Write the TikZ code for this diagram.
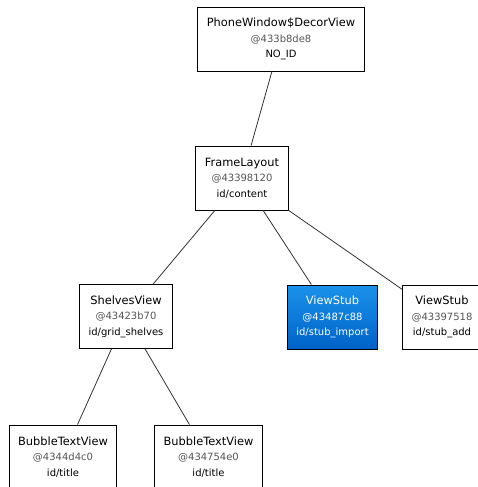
\documentclass[tikz,border=0pt]{standalone}
\usepackage{fontspec}
\setmainfont{DejaVu Sans}

\definecolor{addrgray}{RGB}{85,85,85}
\definecolor{stubtop}{RGB}{26,146,234}
\definecolor{stubbot}{RGB}{0,98,200}
\definecolor{edgegray}{RGB}{50,50,50}

\newcommand{\vinfo}[3]{{\fontsize{11.4}{15.5}\selectfont #1}\\{\color{addrgray}#2}\\#3}

\begin{document}
\begin{tikzpicture}[x=1pt, y=-1pt,
  view/.style={draw, line width=0.9pt, fill=white, align=center, minimum height=64pt,
    inner xsep=9pt, font=\fontsize{10}{15.5}\selectfont},
  picked/.style={view, top color=stubtop, bottom color=stubbot, text=white},
  link/.style={draw=edgegray, line width=0.8pt}]

\useasboundingbox (0,0) rectangle (477,487);

\node[view] (decor) at (281,39) {\vinfo{PhoneWindow\$DecorView}{@433b8de8}{NO\_ID}};
\node[view] (frame) at (242,178) {\vinfo{FrameLayout}{@43398120}{id/content}};

\node[view] (shelves) at (126,316.5) {\vinfo{ShelvesView}{@43423b70}{id/grid\_shelves}};
\node[picked] (stubimport) at (332.5,317) {\vinfo{ViewStub}{\color{white}@43487c88}{id/stub\_import}};
\node[view] (stubadd) at (442,317) {\vinfo{ViewStub}{@43397518}{id/stub\_add}};

\node[view] (bubbleA) at (63,457) {\vinfo{BubbleTextView}{@4344d4c0}{id/title}};
\node[view] (bubbleB) at (208.5,457) {\vinfo{BubbleTextView}{@434754e0}{id/title}};

\draw[link] (decor) -- (frame);
\draw[link] (frame) -- (shelves);
\draw[link] (frame) -- (stubimport);
\draw[link] (frame) -- (stubadd);
\draw[link] (shelves) -- (bubbleA);
\draw[link] (shelves) -- (bubbleB);

\end{tikzpicture}
\end{document}
